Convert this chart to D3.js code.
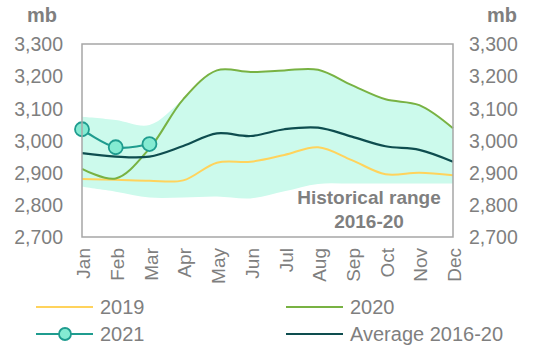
<!DOCTYPE html>
<html><head><meta charset="utf-8">
<script src="https://cdn.jsdelivr.net/npm/d3@7"></script>
<style>
html,body{margin:0;padding:0;background:#fff;}
svg{display:block;font-family:"Liberation Sans",Arial,sans-serif;}
</style></head>
<body>
<svg id="chart" width="544" height="355"></svg>
<script>
const months = ["Jan","Feb","Mar","Apr","May","Jun","Jul","Aug","Sep","Oct","Nov","Dec"];
const yTicks = [2700,2800,2900,3000,3100,3200,3300];
const rangeLow  = [2856,2841,2823,2823,2826,2820,2842,2865,2866,2866,2866,2866];
const rangeHigh = [3074,3064,3048,3128,3218,3213,3218,3220,3172,3128,3110,3038];
const s2019 = [2880,2878,2875,2876,2931,2934,2955,2979,2939,2895,2900,2892];
const s2020 = [2912,2882,2975,3128,3218,3213,3218,3220,3172,3128,3110,3038];
const s2021 = [3035,2979,2989];
const avg   = [2961,2950,2950,2983,3022,3014,3035,3040,3012,2982,2971,2934];

const C = {grey:"#7f7f7f", border:"#a6a6a6", band:"#ccfaec", y19:"#ffd35c", y20:"#78b243",
           y21:"#1f9c8f", y21fill:"#84ebd2", avg:"#0e4d4f"};

const svg = d3.select("#chart");
const x = d3.scalePoint().domain(months).range([82, 453]);
const y = d3.scaleLinear().domain([2700, 3300]).range([237, 44]);
const curve = d3.curveCatmullRom.alpha(0.5);

// band
const band = d3.area().x((d,i)=>x(months[i])).y0(d=>y(d[0])).y1(d=>y(d[1])).curve(curve);
svg.append("path").datum(rangeLow.map((v,i)=>[v,rangeHigh[i]]))
  .attr("d", band).attr("fill", C.band);

// historical range label
const lab = svg.append("text").attr("text-anchor","middle").attr("fill",C.grey)
  .attr("font-weight","bold").attr("font-size","19px");
lab.append("tspan").attr("x",369).attr("y",204).text("Historical range");
lab.append("tspan").attr("x",369).attr("y",228).text("2016-20");

const line = d3.line().x((d,i)=>x(months[i])).y(d=>y(d)).curve(curve);
svg.append("path").datum(s2019).attr("d",line).attr("fill","none").attr("stroke",C.y19).attr("stroke-width",2);
svg.append("path").datum(s2020).attr("d",line).attr("fill","none").attr("stroke",C.y20).attr("stroke-width",2);
svg.append("path").datum(avg).attr("d",line).attr("fill","none").attr("stroke",C.avg).attr("stroke-width",2.2);
svg.append("path").datum(s2021).attr("d",line).attr("fill","none").attr("stroke",C.y21).attr("stroke-width",2.2);
svg.selectAll("circle.p21").data(s2021).join("circle").attr("class","p21")
  .attr("cx",(d,i)=>x(months[i])).attr("cy",d=>y(d)).attr("r",7)
  .attr("fill",C.y21fill).attr("stroke",C.y21).attr("stroke-width",1.8);

// plot border
svg.append("rect").attr("x",82).attr("y",44).attr("width",371).attr("height",193)
  .attr("fill","none").attr("stroke",C.border).attr("stroke-width",1.5);

// axes
const fmt = d3.format(",");
const left = svg.append("g").attr("transform","translate(63,0)")
  .call(d3.axisLeft(y).tickValues(yTicks).tickSize(0).tickPadding(0).tickFormat(fmt));
const right = svg.append("g").attr("transform","translate(469,0)")
  .call(d3.axisRight(y).tickValues(yTicks).tickSize(0).tickPadding(0).tickFormat(fmt));
[left,right].forEach(g=>{
  g.select(".domain").remove();
  g.selectAll("text").attr("fill",C.grey).attr("font-size","19.5px")
   .attr("font-family","'Liberation Sans',Arial,sans-serif").attr("dy","0.35em");
});
const bottom = svg.append("g").attr("transform","translate(0,237)")
  .call(d3.axisBottom(x).tickSize(0).tickPadding(0));
bottom.select(".domain").remove();
bottom.selectAll("text").attr("fill",C.grey).attr("font-size","19px")
  .attr("font-family","'Liberation Sans',Arial,sans-serif")
  .attr("text-anchor","end").attr("transform","translate(1,11) rotate(-90)")
  .attr("x",0).attr("y",0).attr("dy","0.35em");

// unit labels
svg.append("text").attr("x",42).attr("y",22).attr("text-anchor","middle")
  .attr("fill",C.grey).attr("font-weight","bold").attr("font-size","20px").text("mb");
svg.append("text").attr("x",502).attr("y",22).attr("text-anchor","middle")
  .attr("fill",C.grey).attr("font-weight","bold").attr("font-size","20px").text("mb");

// legend
const legend = [
  {name:"2019", color:C.y19, x:36, y:307, marker:false},
  {name:"2020", color:C.y20, x:286, y:307, marker:false},
  {name:"2021", color:C.y21, x:36, y:334, marker:true},
  {name:"Average 2016-20", color:C.avg, x:286, y:334, marker:false}
];
const lg = svg.append("g");
legend.forEach(d=>{
  lg.append("line").attr("x1",d.x).attr("x2",d.x+57).attr("y1",d.y).attr("y2",d.y)
    .attr("stroke",d.color).attr("stroke-width",2);
  if(d.marker) lg.append("circle").attr("cx",d.x+29).attr("cy",d.y).attr("r",6)
    .attr("fill",C.y21fill).attr("stroke",C.y21).attr("stroke-width",1.8);
  lg.append("text").attr("x",d.x+64).attr("y",d.y).attr("dy","0.35em")
    .attr("fill",C.grey).attr("font-size","20px").text(d.name);
});
</script>
</body></html>
